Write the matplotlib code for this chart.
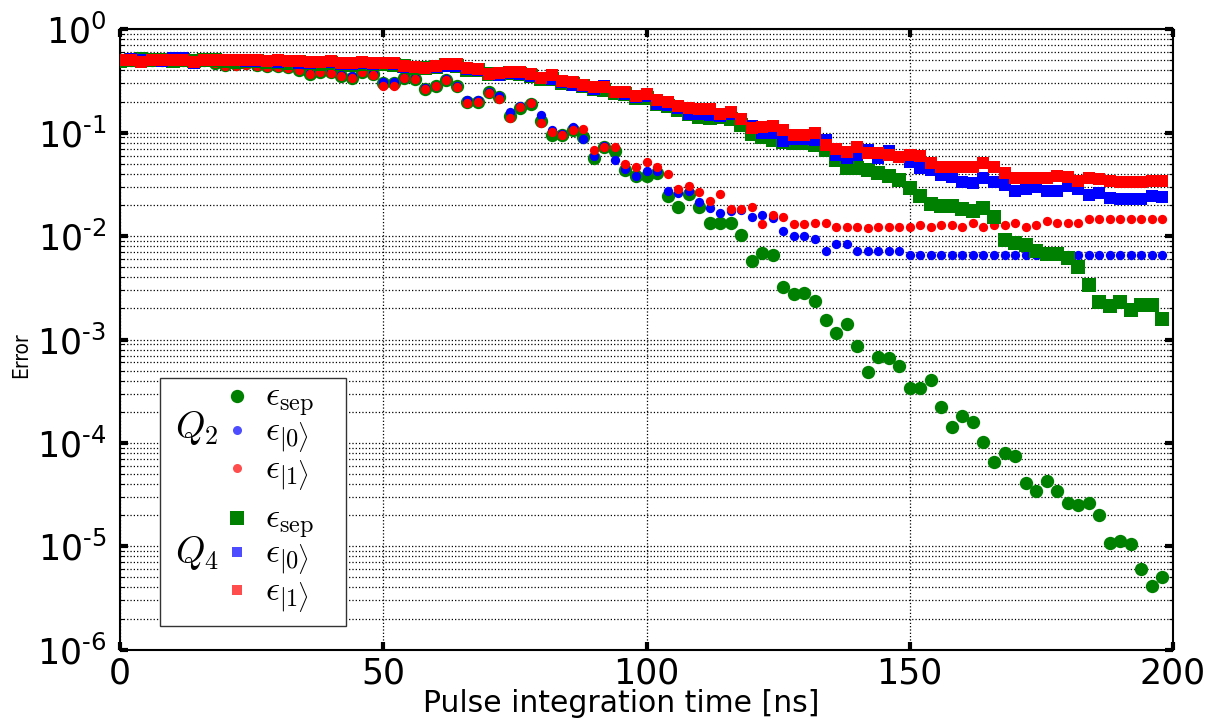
import numpy as np
import matplotlib
matplotlib.use("Agg")
import matplotlib.pyplot as plt
from matplotlib.patches import Rectangle
from matplotlib.ticker import FixedLocator, FixedFormatter, LogLocator, NullFormatter

# ---------------- data ----------------
time_ns = np.arange(0, 200, 2)

q2_sep = [0.50, 0.51, 0.52, 0.50, 0.51, 0.52, 0.50, 0.49, 0.50, 0.47,
          0.45, 0.46, 0.47, 0.45, 0.44, 0.44, 0.43, 0.40, 0.37, 0.39,
          0.39, 0.355, 0.34, 0.39, 0.37, 0.30, 0.30, 0.34, 0.33, 0.265,
          0.28, 0.32, 0.28, 0.20, 0.20, 0.245, 0.22, 0.145, 0.175, 0.19,
          0.13, 0.096, 0.095, 0.106, 0.091, 0.0565, 0.072, 0.067, 0.044, 0.038,
          0.038, 0.041, 0.0244, 0.019, 0.0255, 0.0193, 0.0135, 0.0135, 0.0135, 0.0103,
          0.0057, 0.0068, 0.0065, 0.0032, 0.00275, 0.0028, 0.00237, 0.00155, 0.00115, 0.00141,
          0.00087, 0.00049, 0.00067, 0.00066, 0.000555, 0.00034, 0.00034, 0.00041, 0.00022, 0.000144,
          0.000182, 0.000158, 0.000101, 6.5e-5, 8.0e-5, 7.5e-5, 4.1e-5, 3.45e-5, 4.3e-5, 3.4e-5,
          2.65e-5, 2.5e-5, 2.65e-5, 2.0e-5, 1.08e-5, 1.13e-5, 1.05e-5, 6.0e-6, 4.1e-6, 5.0e-6]

q2_e0 = [0.50, 0.52, 0.51, 0.50, 0.52, 0.51, 0.50, 0.50, 0.49, 0.48,
         0.45, 0.45, 0.46, 0.45, 0.44, 0.44, 0.43, 0.41, 0.38, 0.40,
         0.39, 0.36, 0.35, 0.40, 0.38, 0.31, 0.31, 0.34, 0.335, 0.27,
         0.285, 0.33, 0.28, 0.205, 0.205, 0.25, 0.225, 0.159, 0.18, 0.195,
         0.148, 0.106, 0.097, 0.114, 0.087, 0.0595, 0.074, 0.054, 0.045, 0.038,
         0.0427, 0.043, 0.0273, 0.026, 0.0273, 0.0214, 0.0188, 0.0166, 0.0175, 0.018,
         0.0154, 0.0161, 0.0149, 0.0113, 0.0101, 0.0101, 0.0094, 0.0071, 0.0084, 0.0084,
         0.0071, 0.0071, 0.0071, 0.0071, 0.0071, 0.0066, 0.0065, 0.0065, 0.0065, 0.0065,
         0.0065, 0.0065, 0.0065, 0.0065, 0.0065, 0.0065, 0.0065, 0.0065, 0.0065, 0.0065,
         0.0065, 0.0065, 0.0065, 0.0065, 0.0065, 0.0065, 0.0065, 0.0065, 0.0065, 0.0065]

q2_e1 = [0.49, 0.51, 0.50, 0.51, 0.50, 0.50, 0.51, 0.49, 0.50, 0.47,
         0.44, 0.44, 0.45, 0.44, 0.43, 0.43, 0.42, 0.40, 0.37, 0.39,
         0.38, 0.35, 0.335, 0.39, 0.36, 0.285, 0.285, 0.336, 0.33, 0.263,
         0.283, 0.324, 0.275, 0.195, 0.197, 0.244, 0.214, 0.14, 0.176, 0.192,
         0.125, 0.101, 0.094, 0.106, 0.108, 0.068, 0.072, 0.072, 0.0497, 0.0463,
         0.0517, 0.047, 0.040, 0.0284, 0.0305, 0.0268, 0.0219, 0.0255, 0.0182, 0.0182,
         0.019, 0.013, 0.016, 0.0154, 0.013, 0.013, 0.0134, 0.0134, 0.0123, 0.0123,
         0.0123, 0.0119, 0.0123, 0.0123, 0.0123, 0.0123, 0.0129, 0.0123, 0.0129, 0.0129,
         0.0123, 0.0134, 0.0123, 0.0129, 0.0129, 0.0134, 0.0123, 0.0129, 0.0141, 0.0134,
         0.0134, 0.0134, 0.0146, 0.0146, 0.0146, 0.0146, 0.0146, 0.0146, 0.0146, 0.0146]

q4_sep = [0.49, 0.50, 0.52, 0.50, 0.50, 0.49, 0.50, 0.49, 0.50, 0.50,
          0.49, 0.48, 0.49, 0.49, 0.48, 0.48, 0.47, 0.48, 0.47, 0.46,
          0.47, 0.46, 0.45, 0.46, 0.46, 0.46, 0.45, 0.44, 0.42, 0.42,
          0.43, 0.45, 0.44, 0.405, 0.40, 0.37, 0.37, 0.38, 0.37, 0.355,
          0.33, 0.33, 0.30, 0.295, 0.28, 0.265, 0.26, 0.24, 0.235, 0.215,
          0.215, 0.19, 0.18, 0.165, 0.152, 0.141, 0.14, 0.141, 0.135, 0.119,
          0.098, 0.0914, 0.085, 0.082, 0.080, 0.079, 0.0757, 0.068, 0.0545, 0.0452,
          0.0452, 0.0436, 0.0405, 0.0381, 0.0349, 0.029, 0.0244, 0.0205, 0.0196, 0.0196,
          0.0181, 0.0175, 0.0185, 0.0152, 0.0091, 0.0085, 0.0082, 0.0072, 0.0067, 0.0067,
          0.0062, 0.0050, 0.00336, 0.00232, 0.00213, 0.00232, 0.00194, 0.00216, 0.00216, 0.00157]

q4_e0 = [0.51, 0.52, 0.50, 0.50, 0.49, 0.53, 0.53, 0.47, 0.50, 0.50,
         0.51, 0.50, 0.49, 0.49, 0.49, 0.48, 0.49, 0.47, 0.47, 0.48,
         0.48, 0.46, 0.46, 0.47, 0.46, 0.47, 0.46, 0.43, 0.43, 0.42,
         0.43, 0.44, 0.44, 0.41, 0.40, 0.37, 0.36, 0.38, 0.37, 0.355,
         0.34, 0.33, 0.31, 0.29, 0.28, 0.265, 0.28, 0.245, 0.235, 0.22,
         0.225, 0.19, 0.185, 0.175, 0.152, 0.15, 0.147, 0.145, 0.15, 0.135,
         0.115, 0.100, 0.10, 0.0837, 0.087, 0.087, 0.085, 0.085, 0.061, 0.0565,
         0.061, 0.068, 0.0565, 0.067, 0.0585, 0.0525, 0.0452, 0.0436, 0.0389, 0.0376,
         0.033, 0.0325, 0.0368, 0.0337, 0.0313, 0.0275, 0.0288, 0.030, 0.027, 0.027,
         0.0305, 0.0288, 0.0251, 0.0264, 0.0236, 0.0229, 0.0229, 0.0229, 0.0244, 0.024]

q4_e1 = [0.50, 0.50, 0.48, 0.51, 0.50, 0.51, 0.50, 0.48, 0.50, 0.50,
         0.50, 0.50, 0.50, 0.50, 0.49, 0.50, 0.49, 0.49, 0.48, 0.48,
         0.49, 0.47, 0.47, 0.48, 0.47, 0.47, 0.47, 0.445, 0.435, 0.425,
         0.44, 0.46, 0.46, 0.42, 0.41, 0.37, 0.375, 0.39, 0.385, 0.37,
         0.335, 0.36, 0.316, 0.31, 0.29, 0.275, 0.275, 0.25, 0.245, 0.226,
         0.235, 0.207, 0.20, 0.181, 0.172, 0.17, 0.168, 0.152, 0.16, 0.137,
         0.11, 0.114, 0.117, 0.106, 0.095, 0.095, 0.10, 0.0757, 0.069, 0.0656,
         0.0732, 0.0633, 0.063, 0.0609, 0.0585, 0.0609, 0.0595, 0.0512, 0.0463, 0.0463,
         0.0463, 0.0463, 0.0505, 0.047, 0.0411, 0.0368, 0.0368, 0.0362, 0.0362, 0.038,
         0.0375, 0.0343, 0.0368, 0.036, 0.0343, 0.0337, 0.0333, 0.0333, 0.0343, 0.0343]

xtick_values = [0, 50, 100, 150, 200]
xtick_labels = ["0", "50", "100", "150", "200"]
ytick_values = [1e-6, 1e-5, 1e-4, 1e-3, 1e-2, 1e-1, 1e0]
ytick_labels = [r"$\mathregular{10^{‐6}}$", r"$\mathregular{10^{‐5}}$", r"$\mathregular{10^{‐4}}$",
                r"$\mathregular{10^{‐3}}$", r"$\mathregular{10^{‐2}}$", r"$\mathregular{10^{‐1}}$",
                r"$\mathregular{10^{0}}$"]
legend_labels = [r"$\epsilon_{\rm sep}$", r"$\epsilon_{|0\rangle}$", r"$\epsilon_{|1\rangle}$"]
group_labels = [r"$Q_2$", r"$Q_4$"]

GREEN = "#008000"
BLUE = "#0000ff"
RED = "#ff0000"

# ---------------- figure ----------------
W, H = 1227, 719
fig = plt.figure(figsize=(W / 100, H / 100), dpi=100)
ax_l, ax_r, ax_t, ax_b = 120, 1173, 29.3, 649.7
ax = fig.add_axes([ax_l / W, 1 - ax_b / H, (ax_r - ax_l) / W, (ax_b - ax_t) / H])

ax.set_yscale("log")
ax.set_xlim(0, 200)
ax.set_ylim(1e-6, 1)

kw = dict(ls="none", mew=0)
ax.plot(time_ns, q2_sep, marker="o", ms=9.6, color=GREEN, zorder=3, **kw)
ax.plot(time_ns, q2_e0, marker="o", ms=6.7, color=BLUE, zorder=3, **kw)
ax.plot(time_ns, q2_e1, marker="o", ms=6.7, color=RED, zorder=3, **kw)
ax.plot(time_ns, q4_sep, marker="s", ms=10, color=GREEN, zorder=4, **kw)
ax.plot(time_ns, q4_e0, marker="s", ms=8, color=BLUE, zorder=4, **kw)
ax.plot(time_ns, q4_e1, marker="s", ms=8, color=RED, zorder=4, **kw)

ax.xaxis.set_major_locator(FixedLocator(xtick_values))
ax.xaxis.set_major_formatter(FixedFormatter(xtick_labels))
ax.yaxis.set_major_locator(FixedLocator(ytick_values))
ax.yaxis.set_major_formatter(FixedFormatter(ytick_labels))
ax.yaxis.set_minor_locator(LogLocator(base=10, subs=np.arange(2, 10), numticks=20))
ax.yaxis.set_minor_formatter(NullFormatter())

ax.tick_params(which="both", direction="in", top=True, right=True)
ax.tick_params(which="major", length=6, width=3, labelsize=25, color="black")
ax.tick_params(which="minor", length=3, width=0.8, color="black")
ax.tick_params(axis="y", which="major", pad=10)
ax.tick_params(axis="x", which="major", pad=5)

ax.grid(True, which="major", axis="x", ls=":", color="black", lw=0.9)
ax.grid(True, which="both", axis="y", ls=":", color="black", lw=0.9)
ax.set_axisbelow(True)
for s in ax.spines.values():
    s.set_linewidth(1.5)
    s.set_color("black")

ax.set_xlabel("Pulse integration time [ns]", fontsize=21.5)
ax.xaxis.set_label_coords((621.5 - ax_l) / (ax_r - ax_l), (ax_b - 689) / (ax_b - ax_t))
ax.set_ylabel("Error", fontsize=15, fontstretch="condensed")
ax.yaxis.set_label_coords((31 - ax_l) / (ax_r - ax_l), (ax_b - 355) / (ax_b - ax_t))

# ---------------- legend (custom, grouped) ----------------
def fx(px):
    return (px - ax_l) / (ax_r - ax_l)

def fy(py):
    return (ax_b - py) / (ax_b - ax_t)

frame = Rectangle((fx(160), fy(626)), fx(346) - fx(160), fy(378) - fy(626),
                  transform=ax.transAxes, facecolor="white", edgecolor="#333333",
                  lw=1.0, zorder=10, clip_on=False)
ax.add_patch(frame)

leg_rows = [396, 429.5, 467.5, 517.5, 551.5, 589.5]
leg_markers = [("o", 9.6, GREEN), ("o", 6.5, "#4d4dff"), ("o", 6.5, "#ff4d4d"),
               ("s", 10, GREEN), ("s", 7.2, "#4d4dff"), ("s", 7.2, "#ff4d4d")]
for i, (row, (m, ms, c)) in enumerate(zip(leg_rows, leg_markers)):
    ax.plot([fx(237)], [fy(row)], marker=m, ms=ms, color=c, mew=0, ls="none",
            transform=ax.transAxes, zorder=11, clip_on=False)
    ax.text(fx(265), fy(row + 10.5), legend_labels[i % 3], transform=ax.transAxes,
            fontsize=25, math_fontfamily="cm", va="baseline", ha="left", zorder=11)

for lab, base in zip(group_labels, [438, 563]):
    ax.text(fx(175), fy(base), lab, transform=ax.transAxes, fontsize=27,
            math_fontfamily="cm", va="baseline", ha="left", zorder=11)

fig.savefig("out.png", dpi=100)
